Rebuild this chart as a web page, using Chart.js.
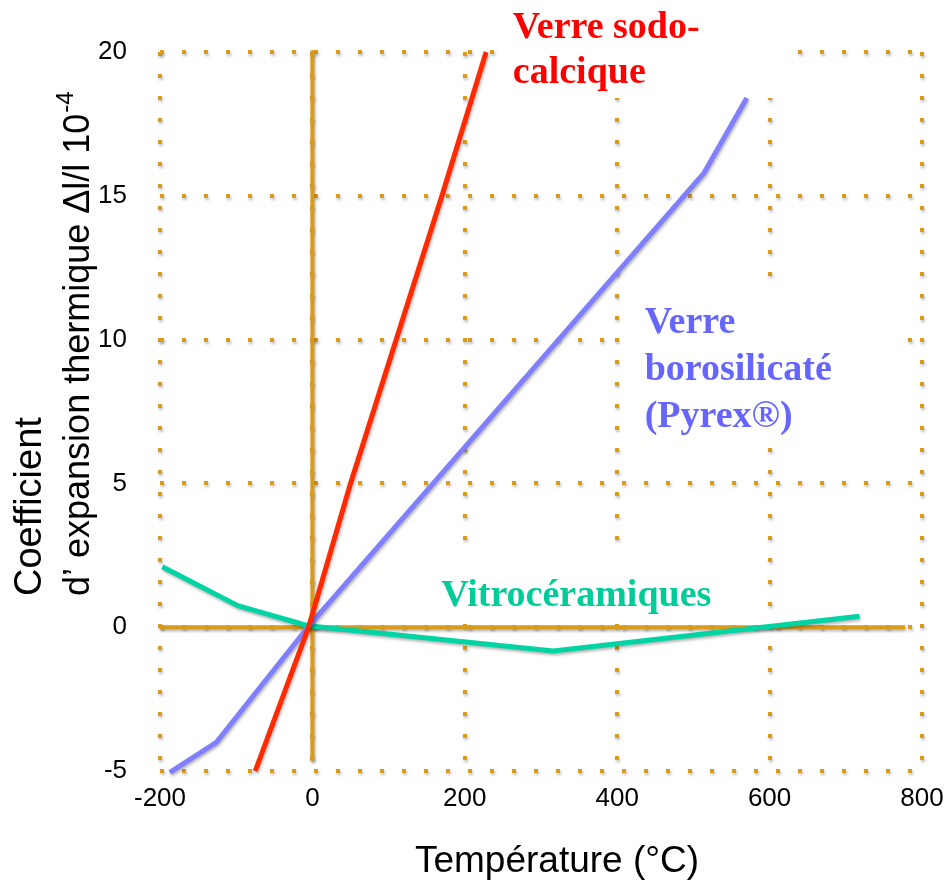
<!DOCTYPE html>
<html><head><meta charset="utf-8">
<script src="https://cdn.jsdelivr.net/npm/chart.js@4"></script>
<style>html,body{margin:0;padding:0;background:#fff}</style>
</head><body>
<canvas id="c" width="950" height="890"></canvas>
<script>
// ---- data ----
const sodoTemp  = [-75, -5, 50, 110, 170, 228];
const sodoCoef  = [-5, 0, 5, 10, 15, 20];
const boroTemp  = [-187, -126, -6, 514, 570];
const boroCoef  = [-5.05, -4, 0, 15.8, 18.4];
const vitroTemp = [-197, -98, -6, 316, 718];
const vitroCoef = [2.1, 0.75, 0.05, -0.83, 0.38];
const axisVTemp = [0, 0];
const axisVCoef = [20, -4.6];
const axisHTemp = [-200, 778];
const axisHCoef = [0, 0];
const xTickValues = [-200, 0, 200, 400, 600, 800];
const yTickValues = [-5, 0, 5, 10, 15, 20];
const seriesNames = ['Verre sodo-calcique', 'Verre borosilicaté (Pyrex®)', 'Vitrocéramiques'];
const xTitle = 'Température (°C)';
const yTitleLines = ['Coefficient', 'd’ expansion thermique Δl/l 10'];
const yTitleSup = '-4';

// ---- styles / annotation placement ----
const ORANGE = '#D99B1C';
const annotBoxes = [
  {x0: 245, x1: 625, y0: 23, y1: 18.4},
  {x0: 404, x1: 769, y0: 11.9, y1: 6.3},
  {x0: 153, x1: 536, y0: 2.85, y1: 0.25}
];
const annotTexts = [
  {lines: ['Verre sodo-', 'calcique'], x: 263, y: 20.49, color: '#FF0000', gap: 45},
  {lines: ['Verre', 'borosilicaté', '(Pyrex®)'], x: 436, y: 10.23, color: '#6666FF', gap: 47},
  {lines: ['Vitrocéramiques'], x: 169, y: 0.72, color: '#00CC99', gap: 0}
];

const pts = (xs, ys) => xs.map((x, i) => ({x, y: ys[i]}));
const SANS = '"Liberation Sans", Arial, sans-serif';

const shadowPlugin = {
  id: 'shadows',
  beforeDraw(chart) {
    const ctx = chart.ctx;
    ctx.shadowColor = 'rgba(0,0,0,0.28)';
    ctx.shadowBlur = 3; ctx.shadowOffsetX = 1; ctx.shadowOffsetY = 2;
  },
  beforeDatasetsDraw(chart) {
    const ctx = chart.ctx;
    ctx.shadowColor = 'rgba(0,0,0,0)';
    ctx.shadowBlur = 0; ctx.shadowOffsetX = 0; ctx.shadowOffsetY = 0;
    const xs = chart.scales.x, ys = chart.scales.y;
    ctx.save();
    ctx.fillStyle = '#fff';
    annotBoxes.forEach(b => {
      const l = xs.getPixelForValue(b.x0), r = xs.getPixelForValue(b.x1);
      const t = ys.getPixelForValue(b.y0), bt = ys.getPixelForValue(b.y1);
      ctx.fillRect(l, t, r - l, bt - t);
    });
    ctx.font = 'bold 38px "Liberation Serif", "Times New Roman", serif';
    ctx.textAlign = 'left'; ctx.textBaseline = 'alphabetic';
    annotTexts.forEach(a => {
      ctx.fillStyle = a.color;
      const px = xs.getPixelForValue(a.x), py = ys.getPixelForValue(a.y);
      a.lines.forEach((ln, i) => ctx.fillText(ln, px, py + i * a.gap));
    });
    ctx.restore();
  },
  beforeDatasetDraw(chart) {
    const ctx = chart.ctx;
    ctx.save();
    ctx.shadowColor = 'rgba(0,0,0,0.3)';
    ctx.shadowBlur = 3; ctx.shadowOffsetX = 1; ctx.shadowOffsetY = 2;
  },
  afterDatasetDraw(chart) { chart.ctx.restore(); },
  afterDatasetsDraw(chart) {
    const ctx = chart.ctx;
    ctx.shadowColor = 'rgba(0,0,0,0)';
    ctx.shadowBlur = 0; ctx.shadowOffsetX = 0; ctx.shadowOffsetY = 0;
  },
  afterDraw(chart) {
    const ctx = chart.ctx;
    const ys = chart.scales.y;
    ctx.save();
    ctx.fillStyle = '#000';
    // x axis title
    ctx.font = '37px ' + SANS;
    ctx.textAlign = 'center'; ctx.textBaseline = 'middle';
    ctx.fillText(xTitle, 557, 862);
    // y axis title (two lines, rotated)
    ctx.textAlign = 'left';
    const x1 = ys.left + 31, x2 = ys.left + 79, yStart = 596;
    ctx.translate(x1, yStart); ctx.rotate(-Math.PI / 2);
    ctx.font = '38px ' + SANS;
    ctx.fillText(yTitleLines[0], 0, 0);
    ctx.font = '36px ' + SANS;
    ctx.fillText(yTitleLines[1], 0, x2 - x1);
    const w = ctx.measureText(yTitleLines[1]).width;
    ctx.font = '24px ' + SANS;
    ctx.fillText(yTitleSup, w + 1, x2 - x1 - 13);
    ctx.restore();
  }
};

const lineDs = (label, data, color, width, order) => ({
  label, data, borderColor: color, backgroundColor: color, borderWidth: width,
  pointRadius: 0, tension: 0, fill: false, clip: false, order,
  borderJoinStyle: 'round', borderCapStyle: 'butt'
});

new Chart(document.getElementById('c'), {
  type: 'line',
  data: {
    datasets: [
      lineDs(seriesNames[0], pts(sodoTemp, sodoCoef), '#FF2A00', 5, 1),
      lineDs(seriesNames[1], pts(boroTemp, boroCoef), '#8080FF', 5, 2),
      lineDs(seriesNames[2], pts(vitroTemp, vitroCoef), '#00D4A4', 5, 3),
      lineDs('axe0', pts(axisVTemp, axisVCoef), ORANGE, 4, 10),
      lineDs('axe1', pts(axisHTemp, axisHCoef), ORANGE, 4, 10)
    ]
  },
  options: {
    responsive: false,
    animation: false,
    layout: {padding: {top: 52, right: 28, bottom: 0, left: 0}},
    plugins: {legend: {display: false}, tooltip: {enabled: false}},
    scales: {
      x: {
        type: 'linear', min: -200, max: 800,
        afterBuildTicks: s => { s.ticks = xTickValues.map(v => ({value: v})); },
        afterFit: s => { s.height = 119; s.paddingLeft = 0; s.paddingRight = 0; },
        ticks: {font: {family: SANS, size: 26}, color: '#000', padding: 12, z: 1},
        grid: {color: ORANGE, lineWidth: 4, drawTicks: false},
        border: {display: false, dash: [4, 18]},
        title: {display: false, text: xTitle}
      },
      y: {
        type: 'linear', min: -5, max: 20,
        afterBuildTicks: s => { s.ticks = yTickValues.map(v => ({value: v})); },
        afterFit: s => { s.width = 160; s.paddingTop = 0; s.paddingBottom = 0; },
        ticks: {font: {family: SANS, size: 26}, color: '#000', padding: 33, z: 1},
        grid: {color: ORANGE, lineWidth: 4, drawTicks: false},
        border: {display: false, dash: [4, 18]}
      }
    }
  },
  plugins: [shadowPlugin]
});
</script>
</body></html>
